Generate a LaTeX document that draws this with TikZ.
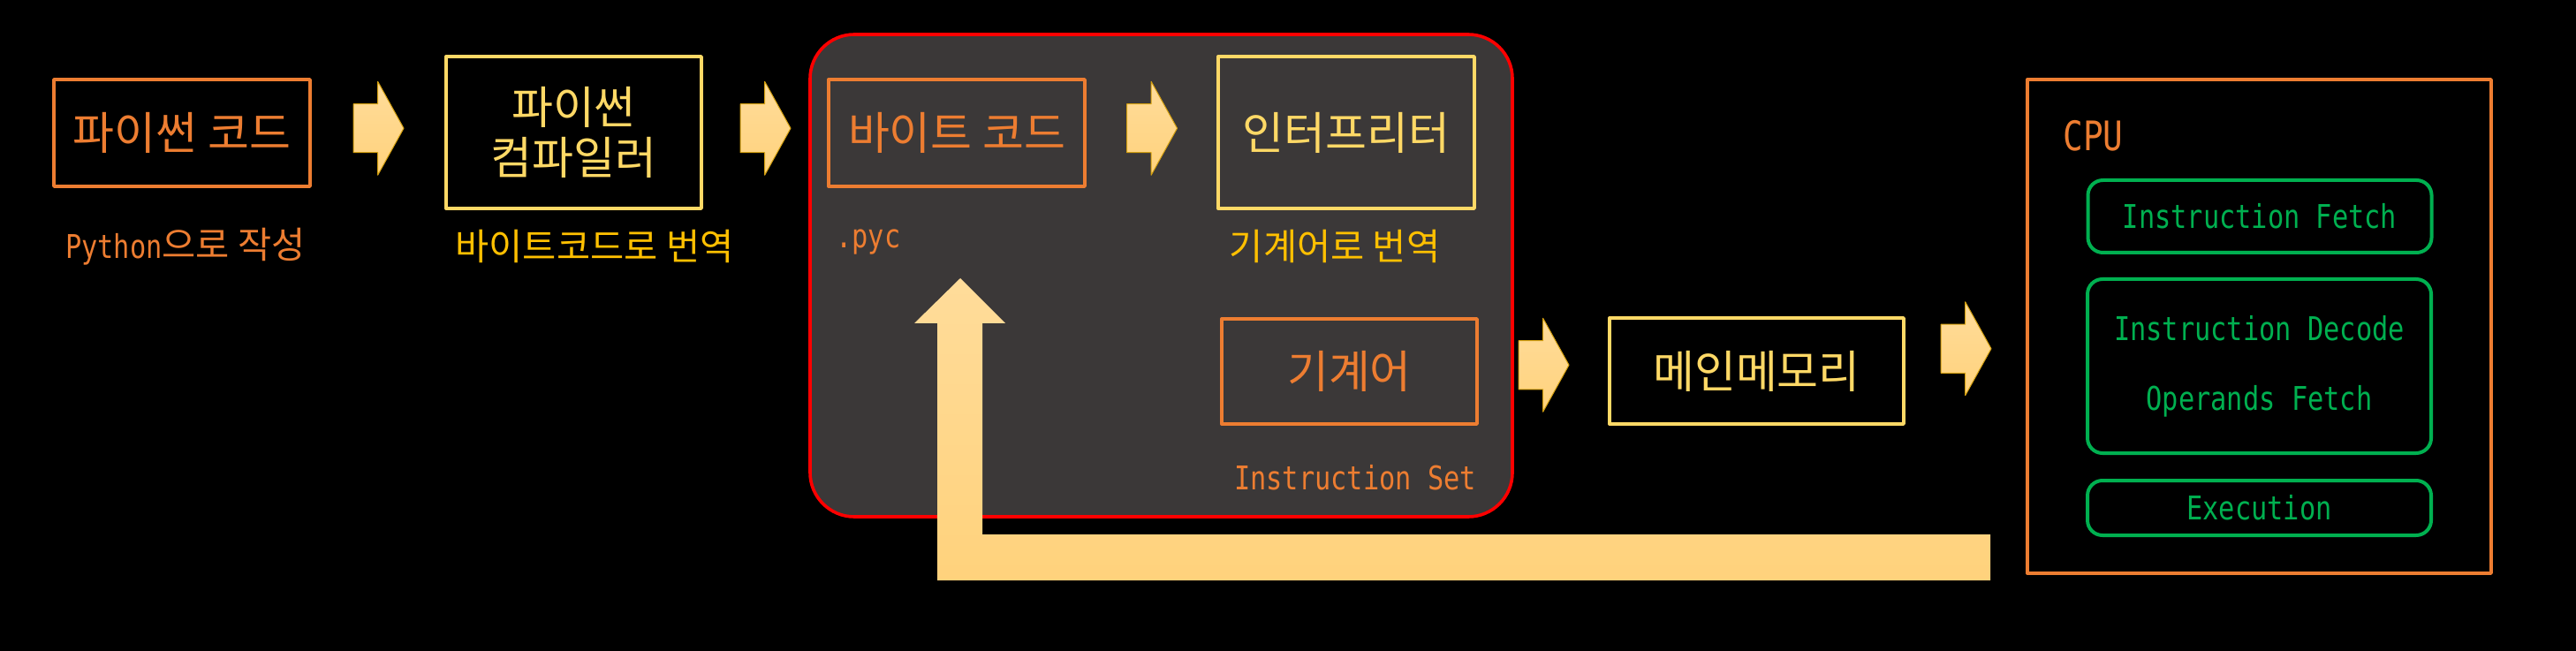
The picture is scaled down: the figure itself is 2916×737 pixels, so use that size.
\documentclass[tikz,border=0pt]{standalone}
\usepackage{fontspec}
\setmainfont{Noto Sans CJK KR}
\newfontfamily\mono{DejaVu Sans Mono}[FakeStretch=0.82]
\usetikzlibrary{shapes.arrows,calc}
\definecolor{orng}{HTML}{ED7D31}
\definecolor{ylw}{HTML}{FFD966}
\definecolor{gold}{HTML}{FFC000}
\definecolor{grn}{HTML}{00B050}
\definecolor{panel}{HTML}{3B3838}
\definecolor{arrowtop}{HTML}{FFDC9A}
\definecolor{arrowbot}{HTML}{FFD27C}
\definecolor{arrowline}{HTML}{D4A010}
\begin{document}
\begin{tikzpicture}[x=0.5pt, y=-0.5pt, line join=round,
	box/.style={draw, line width=1.7pt, inner sep=0pt, align=center, font=\fontsize{25.5}{28.5}\selectfont},
	orgbox/.style={box, draw=orng, text=orng},
	ylwbox/.style={box, draw=ylw, text=ylw},
	grnbox/.style={draw=grn, line width=2pt, rounded corners=8.5pt, text=grn, inner sep=0pt, minimum width=194.5pt, align=center, font=\mono\fontsize{18.5}{39.5}\selectfont},
	note/.style={inner sep=0pt, font=\fontsize{20.75}{22}\selectfont},
	mononote/.style={inner sep=0pt, font=\mono\fontsize{18.5}{22}\selectfont},
	blk/.style={single arrow, anchor=tail, draw=arrowline, line width=0.5pt, top color=arrowtop, bottom color=arrowbot, inner xsep=0pt, inner ysep=13.5pt, single arrow head extend=12.75pt, single arrow tip angle=122, minimum height=28.5pt}]
	\fill[black] (0,0) rectangle (2916,737);
	% virtual machine panel
	\node[draw=red, line width=1.8pt, fill=panel, rounded corners=25pt, minimum width=397.5pt, minimum height=273pt] (vm) at (1314.5,312) {};
	\node[orgbox, minimum width=145pt, minimum height=60.5pt] (pycode) at (206,150.5) {파이썬 코드};
	\node[ylwbox, minimum width=144.5pt, minimum height=86pt] (compiler) at (649.5,150) {파이썬\\컴파일러};
	\node[orgbox, minimum width=145pt, minimum height=60.5pt] (bytecode) at (1083,150.5) {바이트 코드};
	\node[ylwbox, minimum width=145pt, minimum height=86pt] (interp) at (1524,150) {인터프리터};
	\node[orgbox, minimum width=144.5pt, minimum height=59.5pt] (machine) at (1527.5,420.5) {기계어};
	\node[ylwbox, minimum width=166.5pt, minimum height=60pt] (memory) at (1988.5,420) {메인메모리};
	\node[note, text=orng] (pynote) at (210,279) {{\mono\fontsize{18.5}{22}\selectfont Python}으로 작성};
	\node[note, text=gold] (compnote) at (673,279) {바이트코드로 번역};
	\node[mononote, text=orng, anchor=west] (pycnote) at (946,274) {.pyc};
	\node[note, text=gold] (interpnote) at (1511,279) {기계어로 번역};
	\node[mononote, text=orng] (isanote) at (1534,541) {Instruction Set};
	% CPU
	\node[draw=orng, line width=1.7pt, minimum width=262.5pt, minimum height=279.5pt] (cpu) at (2557.5,369.5) {};
	\node[text=orng, anchor=west, inner sep=0pt, font=\mono\fontsize{23}{28}\selectfont] (cpulabel) at (2335,154) {CPU};
	\node[grnbox, minimum height=41pt] (fetch) at (2558,245) {Instruction Fetch};
	\node[grnbox, minimum height=98.5pt] (decode) at (2557.5,414.5) {Instruction Decode\\Operands Fetch};
	\node[grnbox, minimum height=31pt] (exec) at (2557.5,575) {Execution};
	% block arrows
	\node[blk] (a1) at ($(pycode.east)!0.5!(compiler.west)+(-28.5,-5)$) {};
	\node[blk] (a2) at ($(compiler.east)!0.5!(bytecode.west)+(-28.5,-5)$) {};
	\node[blk] (a3) at ($(bytecode.east)!0.5!(interp.west)+(-28.5,-5)$) {};
	\node[blk] (a4) at ($(machine.east)!0.5!(memory.west)+(-28.5,-7)$) {};
	\node[blk] (a5) at ($(memory.east)!0.5!(cpu.west)+(-28.5,0)$) {};
	% back to byte code
	\coordinate (retstart) at (2253,631);
	\coordinate (rettip) at (1087,315);
	\shade[top color=arrowtop, bottom color=arrowbot] (retstart |- 0,605) -| (1112,366) -- (1138,366) -- (rettip) -- (1035,366) -- (1061,366) |- (retstart |- 0,657) -- cycle;
\end{tikzpicture}
\end{document}
